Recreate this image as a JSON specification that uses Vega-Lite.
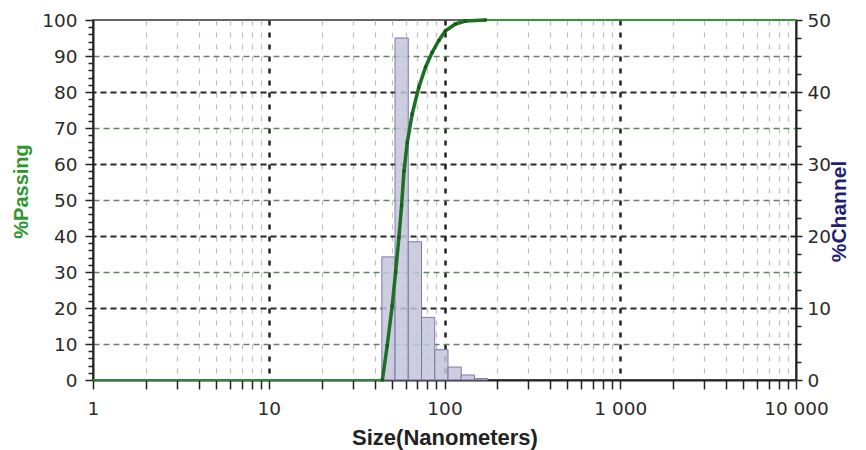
{
  "$schema": "https://vega.github.io/schema/vega-lite/v6.json",
  "width": 703,
  "height": 360,
  "autosize": {"type": "none"},
  "padding": {"left": 93, "top": 20, "right": 70, "bottom": 70},
  "background": "white",
  "config": {
    "view": {"stroke": "#333333", "strokeWidth": 1.5},
    "axis": {
      "labelFont": "DejaVu Sans",
      "labelFontSize": 18.5,
      "labelColor": "#2b2b2b",
      "titleFont": "Liberation Sans",
      "titleFontWeight": "bold",
      "domainColor": "#222222",
      "domainWidth": 2,
      "tickColor": "#222222",
      "tickWidth": 1.5,
      "labelOverlap": false,
      "labelFlush": false,
      "labelBound": false
    }
  },
  "datasets": {
    "channel": [
      {"size": 44.0, "size2": 52.3, "channel": 17.1},
      {"size": 52.3, "size2": 62.2, "channel": 47.5},
      {"size": 62.2, "size2": 74.0, "channel": 19.2},
      {"size": 74.0, "size2": 88.0, "channel": 8.7},
      {"size": 88.0, "size2": 104.7, "channel": 4.2},
      {"size": 104.7, "size2": 124.5, "channel": 1.8},
      {"size": 124.5, "size2": 148.0, "channel": 0.7},
      {"size": 148.0, "size2": 176.0, "channel": 0.2}
    ],
    "passing": [
      {"size": 1, "passing": 0},
      {"size": 44.3, "passing": 0},
      {"size": 47.2, "passing": 9.5},
      {"size": 50.4, "passing": 20.6},
      {"size": 52.7, "passing": 30},
      {"size": 55.0, "passing": 39.5},
      {"size": 57.0, "passing": 48.5},
      {"size": 58.8, "passing": 58},
      {"size": 61.4, "passing": 66},
      {"size": 65.5, "passing": 73.9},
      {"size": 71.4, "passing": 81.3},
      {"size": 78.0, "passing": 86.9},
      {"size": 85.1, "passing": 91},
      {"size": 92.8, "passing": 94.3},
      {"size": 101.3, "passing": 97},
      {"size": 115.5, "passing": 98.9},
      {"size": 131.6, "passing": 99.7},
      {"size": 171, "passing": 100},
      {"size": 10000, "passing": 100}
    ]
  },
  "encoding": {
    "x": {
      "field": "size",
      "type": "quantitative",
      "scale": {"type": "log", "domain": [1, 10000], "nice": false},
      "axis": {
        "title": "Size(Nanometers)",
        "titleFontSize": 22,
        "titleColor": "#222222",
        "titleX": 351.5,
        "titleY": 57,
        "titleBaseline": "middle",
        "titleAlign": "center",
        "tickCount": 100,
        "values": [1,2,3,4,5,6,7,8,9,10,20,30,40,50,60,70,80,90,100,200,300,400,500,600,700,800,900,1000,2000,3000,4000,5000,6000,7000,8000,9000,10000],
        "labelExpr": "datum.value == 1 ? '1' : datum.value == 10 ? '10' : datum.value == 100 ? '100' : datum.value == 1000 ? '1 000' : datum.value == 10000 ? '10 000' : ''",
        "tickSize": 9,
        "labelPadding": 10,
        "grid": true,
        "gridColor": {"condition": {"test": "datum.value == 10 || datum.value == 100 || datum.value == 1000", "value": "#222222"}, "value": "#bdbdbd"},
        "gridWidth": {"condition": {"test": "datum.value == 10 || datum.value == 100 || datum.value == 1000", "value": 2.5}, "value": 1.2},
        "gridDash": [5, 7]
      }
    }
  },
  "layer": [
    {
      "data": {"name": "channel"},
      "mark": {"type": "rect", "fill": "#c4c4da", "fillOpacity": 0.85, "stroke": "#7a7aa8", "strokeWidth": 1},
      "encoding": {
        "x2": {"field": "size2"},
        "y": {
          "field": "channel",
          "type": "quantitative",
          "scale": {"domain": [0, 50], "nice": false},
          "axis": {
            "orient": "right",
            "title": "%Channel",
            "titleColor": "#1f1f78",
            "titleFontSize": 21,
            "titleAngle": 270,
            "titleX": 43,
            "titleY": 191,
            "titleAlign": "center",
            "titleBaseline": "middle",
            "tickCount": 100,
            "values": [0,2.5,5,7.5,10,12.5,15,17.5,20,22.5,25,27.5,30,32.5,35,37.5,40,42.5,45,47.5,50],
            "labelExpr": "datum.value % 10 == 0 ? format(datum.value, 'd') : ''",
            "tickSize": {"condition": {"test": "datum.value % 10 == 0", "value": 6}, "value": 5},
            "labelPadding": 5,
            "grid": true,
            "gridColor": "#2a2a2a",
            "gridWidth": 2,
            "gridDash": [6, 4],
            "gridOpacity": {"condition": {"test": "datum.value % 10 == 0 && datum.value > 0 && datum.value < 50", "value": 1}, "value": 0}
          }
        },
        "y2": {"datum": 0}
      }
    },
    {
      "data": {"name": "passing"},
      "layer": [
        {
          "mark": {"type": "line", "color": "#2aa52a", "strokeWidth": 1.5},
          "encoding": {
            "y": {
              "field": "passing",
              "type": "quantitative",
              "scale": {"domain": [0, 100], "nice": false},
              "axis": {
                "orient": "left",
                "title": "%Passing",
                "titleColor": "#2f962f",
                "titleFontSize": 20,
                "titleAngle": 270,
                "titleX": -72,
                "titleY": 171,
                "titleAlign": "center",
                "titleBaseline": "middle",
                "tickCount": 100,
                "values": [0,2,4,6,8,10,12,14,16,18,20,22,24,26,28,30,32,34,36,38,40,42,44,46,48,50,52,54,56,58,60,62,64,66,68,70,72,74,76,78,80,82,84,86,88,90,92,94,96,98,100],
                "labelExpr": "datum.value % 10 == 0 ? format(datum.value, 'd') : ''",
                "tickSize": {"condition": {"test": "datum.value % 10 == 0", "value": 8}, "value": 5},
                "labelPadding": 8,
                "grid": true,
                "gridColor": "#5f875f",
                "gridWidth": 1.6,
                "gridDash": [6, 4],
                "gridOpacity": {"condition": {"test": "datum.value % 20 == 10", "value": 1}, "value": 0}
              }
            }
          }
        },
        {
          "transform": [{"filter": "datum.size > 40 && datum.size < 200"}],
          "mark": {"type": "line", "color": "#1d6f22", "strokeWidth": 3.5, "point": {"filled": true, "shape": "square", "size": 10, "color": "#145a18"}},
          "encoding": {
            "y": {"field": "passing", "type": "quantitative"}
          }
        }
      ]
    }
  ],
  "resolve": {"scale": {"y": "independent"}}
}
